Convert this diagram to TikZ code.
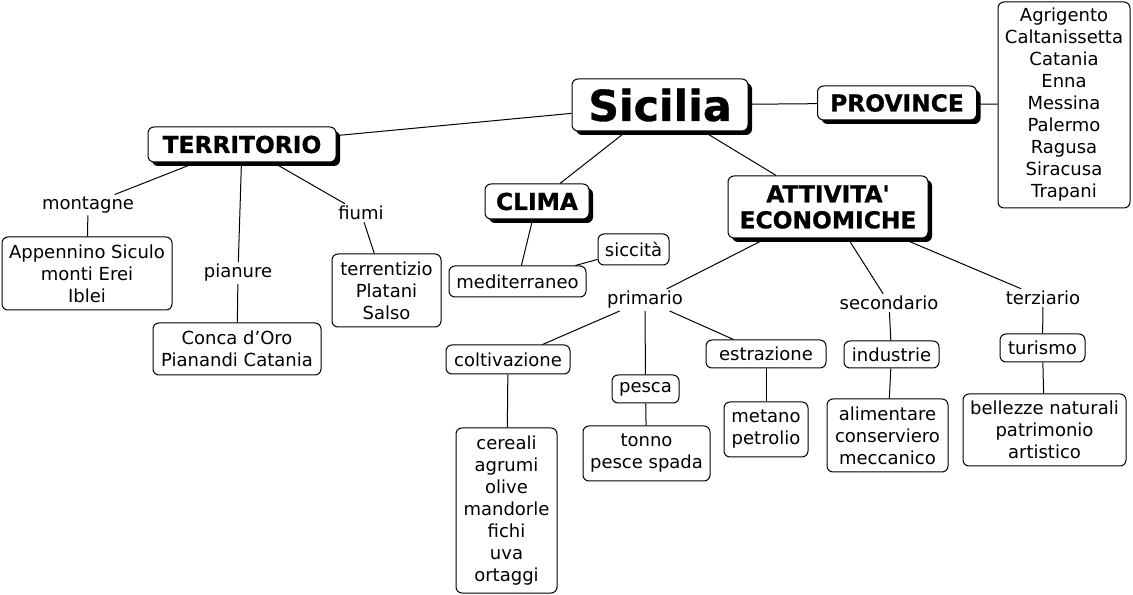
\documentclass[tikz,border=0pt]{standalone}
\usepackage{fontspec}
\setmainfont{DejaVu Sans}
\newfontfamily\bfw{DejaVu Sans Bold}[FakeBold=0.8]
\usetikzlibrary{shadows}
\newcommand\pxu{*0.75pt}
\tikzset{
  conn/.style={line width=0.75pt},
  box/.style={draw, line width=0.75pt, rounded corners=4.5pt, fill=white, align=center,
     inner sep=0pt, font=\fontsize{13.5}{16.5}\selectfont},
  lbl/.style={inner sep=1.5pt, align=center, font=\fontsize{13.5}{16.5}\selectfont},
  mainbox/.style={box, drop shadow={shadow xshift=3pt, shadow yshift=-3pt, opacity=1, fill=black},
     font=\bfw\fontsize{17.5}{19.5}\selectfont},
}
\begin{document}
\begin{tikzpicture}[x=0.75pt,y=-0.75pt]
\useasboundingbox (0,0) rectangle (1133,595);
% main nodes
\node[mainbox, minimum width=176\pxu, minimum height=52\pxu, font=\bfw\fontsize{32}{34}\selectfont] (sic) at (660,105) {Sicilia};
\node[mainbox, minimum width=159\pxu, minimum height=34\pxu] (prov) at (897,103) {PROVINCE};
\node[box, minimum width=132\pxu, minimum height=206\pxu] (plist) at (1064,105) {Agrigento\\Caltanissetta\\Catania\\Enna\\Messina\\Palermo\\Ragusa\\Siracusa\\Trapani};
\node[mainbox, minimum width=188\pxu, minimum height=35\pxu] (terr) at (242,144.5) {TERRITORIO};
\node[mainbox, minimum width=104\pxu, minimum height=35\pxu] (clima) at (537,201.5) {CLIMA};
\node[mainbox, minimum width=200\pxu, minimum height=62\pxu] (att) at (828,207) {ATTIVITA'\\ECONOMICHE};
% territorio
\node[lbl] (mont) at (88,205) {montagne};
\node[box, minimum width=170\pxu, minimum height=73\pxu] (app) at (87,273.5) {Appennino Siculo\\monti Erei\\Iblei};
\node[lbl] (pian) at (238,273) {pianure};
\node[box, minimum width=168\pxu, minimum height=52\pxu] (conca) at (237,349) {Conca d’Oro\\Pianandi Catania};
\node[lbl] (fiumi) at (361,213) {fiumi};
\node[box, minimum width=109\pxu, minimum height=73\pxu] (fl) at (386.5,290.5) {terrentizio\\Platani\\Salso};
% clima
\node[box, minimum width=137\pxu, minimum height=31\pxu] (med) at (517.5,281.5) {mediterraneo};
\node[box, minimum width=71\pxu, minimum height=31\pxu] (sicc) at (633.5,249.5) {siccità};
% attivita
\node[lbl] (prim) at (645,300) {primario};
\node[lbl] (sec) at (889,303) {secondario};
\node[lbl] (terz) at (1043,298) {terziario};
\node[box, minimum width=124\pxu, minimum height=29\pxu] (colt) at (508,359.5) {coltivazione};
\node[box, minimum width=67\pxu, minimum height=28\pxu] (pesca) at (645.5,389) {pesca};
\node[box, minimum width=120\pxu, minimum height=28\pxu] (estr) at (766,354) {estrazione};
\node[box, minimum width=95\pxu, minimum height=27\pxu] (ind) at (891.5,354.5) {industrie};
\node[box, minimum width=85\pxu, minimum height=28\pxu] (tur) at (1042.5,348) {turismo};
\node[box, minimum width=101\pxu, minimum height=165\pxu] (cer) at (506.5,510.5) {cereali\\agrumi\\olive\\mandorle\\fichi\\uva\\ortaggi};
\node[box, minimum width=127\pxu, minimum height=55\pxu] (tonno) at (646.5,453.5) {tonno\\pesce spada};
\node[box, minimum width=84\pxu, minimum height=55\pxu] (met) at (766,429.5) {metano\\petrolio};
\node[box, minimum width=121\pxu, minimum height=73\pxu] (alim) at (887.5,435.5) {alimentare\\conserviero\\meccanico};
\node[box, minimum width=163\pxu, minimum height=72\pxu] (bell) at (1044.5,430) {bellezze naturali\\patrimonio\\artistico};
% connectors
\draw[conn] (sic) -- (terr);
\draw[conn] (sic) -- (prov);
\draw[conn] (prov) -- (plist);
\draw[conn] (sic) -- (clima);
\draw[conn] (sic) -- (att);
\draw[conn] (terr) -- (mont);
\draw[conn] (mont) -- (app);
\draw[conn] (terr) -- (pian);
\draw[conn] (pian) -- (conca);
\draw[conn] (terr) -- (fiumi);
\draw[conn] (fiumi) -- (fl);
\draw[conn] (clima) -- (med);
\draw[conn] (med) -- (sicc);
\draw[conn] (att) -- (prim);
\draw[conn] (att) -- (sec);
\draw[conn] (att) -- (terz);
\draw[conn] (prim) -- (colt);
\draw[conn] (prim) -- (pesca);
\draw[conn] (prim) -- (estr);
\draw[conn] (colt) -- (cer);
\draw[conn] (pesca) -- (tonno);
\draw[conn] (estr) -- (met);
\draw[conn] (sec) -- (ind);
\draw[conn] (ind) -- (alim);
\draw[conn] (terz) -- (tur);
\draw[conn] (tur) -- (bell);
\end{tikzpicture}
\end{document}
